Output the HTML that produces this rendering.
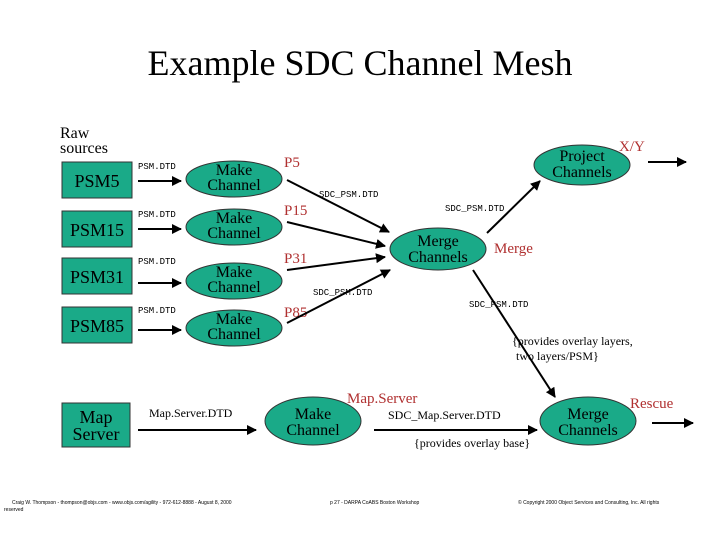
<!DOCTYPE html>
<html><head><meta charset="utf-8"><style>
html,body{margin:0;padding:0;background:#fff;}
svg{display:block;font-family:"Liberation Serif",serif;}
</style></head><body>
<svg width="720" height="540" viewBox="0 0 720 540" xmlns="http://www.w3.org/2000/svg">
<defs><marker id="a" viewBox="0 0 10 10" refX="9" refY="5" markerWidth="5" markerHeight="5" orient="auto"><path d="M0,0L10,5L0,10z" fill="#000"/></marker></defs>
<text x="360" y="75" font-size="36" text-anchor="middle">Example SDC Channel Mesh</text>
<text x="60" y="138" font-size="16">Raw</text>
<text x="60" y="153" font-size="16">sources</text>
<g fill="#1aaa88" stroke="#333" stroke-width="1">
<rect x="62" y="162" width="70" height="36"/>
<rect x="62" y="211" width="70" height="36"/>
<rect x="62" y="258" width="70" height="36"/>
<rect x="62" y="307" width="70" height="36"/>
<rect x="62" y="403" width="68" height="44"/>
<ellipse cx="234" cy="179" rx="48" ry="18"/>
<ellipse cx="234" cy="227" rx="48" ry="18"/>
<ellipse cx="234" cy="281" rx="48" ry="18"/>
<ellipse cx="234" cy="328" rx="48" ry="18"/>
<ellipse cx="438" cy="249" rx="48" ry="21"/>
<ellipse cx="582" cy="165" rx="48" ry="20"/>
<ellipse cx="313" cy="421" rx="48" ry="24"/>
<ellipse cx="588" cy="421" rx="48" ry="24"/>
</g>
<g font-size="18" text-anchor="middle">
<text x="97" y="187">PSM5</text><text x="97" y="236">PSM15</text>
<text x="97" y="283">PSM31</text><text x="97" y="332">PSM85</text>
<text x="96" y="423">Map</text><text x="96" y="440">Server</text>
</g>
<g font-size="16" text-anchor="middle">
<text x="234" y="175">Make</text><text x="234" y="190">Channel</text>
<text x="234" y="223">Make</text><text x="234" y="238">Channel</text>
<text x="234" y="277">Make</text><text x="234" y="292">Channel</text>
<text x="234" y="324">Make</text><text x="234" y="339">Channel</text>
<text x="438" y="246">Merge</text><text x="438" y="262">Channels</text>
<text x="582" y="161">Project</text><text x="582" y="177">Channels</text>
<text x="313" y="419">Make</text><text x="313" y="435">Channel</text>
<text x="588" y="419">Merge</text><text x="588" y="435">Channels</text>
</g>
<g font-size="9" font-family="Liberation Mono,monospace">
<text x="138" y="169">PSM.DTD</text><text x="138" y="217">PSM.DTD</text>
<text x="138" y="264">PSM.DTD</text><text x="138" y="313">PSM.DTD</text>
<text x="319" y="197">SDC_PSM.DTD</text><text x="445" y="211">SDC_PSM.DTD</text>
<text x="313" y="295">SDC_PSM.DTD</text><text x="469" y="307">SDC_PSM.DTD</text>
</g>
<g fill="#b03030" font-size="15">
<text x="284" y="167">P5</text><text x="284" y="215">P15</text>
<text x="284" y="263">P31</text><text x="284" y="317">P85</text>
<text x="494" y="253">Merge</text><text x="619" y="151">X/Y</text>
<text x="347" y="403">Map.Server</text><text x="630" y="408">Rescue</text>
</g>
<g font-size="12">
<text x="512" y="345">{provides overlay layers,</text>
<text x="516" y="360">two layers/PSM}</text>
<text x="149" y="417">Map.Server.DTD</text>
<text x="388" y="419">SDC_Map.Server.DTD</text>
<text x="414" y="447">{provides overlay base}</text>
</g>
<g stroke="#000" stroke-width="2" fill="none" marker-end="url(#a)">
<line x1="138" y1="181" x2="181" y2="181"/><line x1="138" y1="229" x2="181" y2="229"/>
<line x1="138" y1="283" x2="181" y2="283"/><line x1="138" y1="330" x2="181" y2="330"/>
<line x1="287" y1="180" x2="389" y2="232"/><line x1="287" y1="222" x2="385" y2="246"/>
<line x1="287" y1="270" x2="385" y2="257"/><line x1="287" y1="323" x2="390" y2="270"/>
<line x1="487" y1="233" x2="540" y2="181"/>
<line x1="648" y1="162" x2="686" y2="162"/>
<line x1="473" y1="270" x2="555" y2="397"/>
<line x1="138" y1="430" x2="256" y2="430"/>
<line x1="374" y1="430" x2="537" y2="430"/>
<line x1="652" y1="423" x2="693" y2="423"/>
</g>
<g font-size="5" font-family="Liberation Sans,sans-serif">
<text x="12" y="504">Craig W. Thompson - thompson@objs.com - www.objs.com/agility - 972-612-8888 - August 8, 2000</text>
<text x="4" y="511">reserved</text>
<text x="330" y="504">p 27 - DARPA CoABS Boston Workshop</text>
<text x="518" y="504">© Copyright 2000 Object Services and Consulting, Inc. All rights</text>
</g>
</svg>
</body></html>
